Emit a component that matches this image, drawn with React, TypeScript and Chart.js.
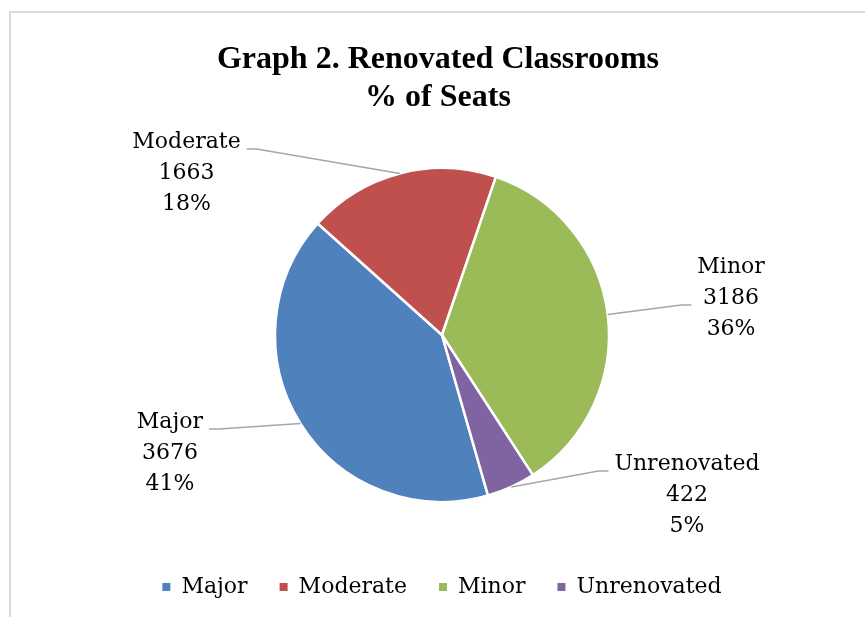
import React, { useEffect, useRef } from 'react';
import { Chart, registerables } from 'chart.js';

Chart.register(...registerables);

// ---- data ----
const categories = ['Major', 'Moderate', 'Minor', 'Unrenovated'];
const seats = [3676, 1663, 3186, 422];
const percentLabels = ['41%', '18%', '36%', '5%'];
const titleLines = ['Graph 2. Renovated Classrooms', '% of Seats'];

// ---- styles ----
const sliceColors = ['#4F81BD', '#C0504D', '#9BBB59', '#8064A2'];
const LABEL_FONT = '22px "DejaVu Serif"';
const TITLE_FONT = 'bold 32px "Liberation Serif"';
const LINE_GAP = 31;
// label block centre (middle line) relative to pie centre, in units of the radius
const labelLayout = [
  { dx: -1.629, dy: 0.707, attachLine: 0 },
  { dx: -1.53, dy: -0.97, attachLine: 0 },
  { dx: 1.731, dy: -0.222, attachLine: 1 },
  { dx: 1.467, dy: 0.958, attachLine: 0 },
];

const framePlugin = {
  id: 'frame',
  beforeDraw(chart: any) {
    const { ctx, width, height } = chart;
    ctx.save();
    ctx.fillStyle = '#ffffff';
    ctx.fillRect(0, 0, width, height);
    ctx.strokeStyle = '#d9d9d9';
    ctx.lineWidth = 2;
    ctx.strokeRect(10, 12, width + 20, height + 20);
    ctx.restore();
  },
};

const titlePlugin = {
  id: 'customTitle',
  afterDraw(chart: any) {
    const { ctx } = chart;
    ctx.save();
    ctx.font = TITLE_FONT;
    ctx.fillStyle = '#000000';
    ctx.textAlign = 'center';
    ctx.textBaseline = 'alphabetic';
    ctx.fillText(titleLines[0], 438, 68);
    ctx.fillText(titleLines[1], 438, 106);
    ctx.restore();
  },
};

const labelPlugin = {
  id: 'sliceLabels',
  afterDatasetsDraw(chart: any) {
    const { ctx } = chart;
    const meta = chart.getDatasetMeta(0);
    ctx.save();
    ctx.font = LABEL_FONT;
    meta.data.forEach((arc: any, i: number) => {
      const { x, y, startAngle, endAngle, outerRadius } = arc.getProps(
        ['x', 'y', 'startAngle', 'endAngle', 'outerRadius'],
        true
      );
      const mid = (startAngle + endAngle) / 2;
      const px = x + Math.cos(mid) * outerRadius;
      const py = y + Math.sin(mid) * outerRadius;
      const lay = labelLayout[i];
      const cx = x + lay.dx * outerRadius;
      const cy = y + lay.dy * outerRadius;
      const lines = [categories[i], String(seats[i]), percentLabels[i]];
      const maxW = Math.max(...lines.map((t) => ctx.measureText(t).width));
      const onRight = cx > x;
      const ax = onRight ? cx - maxW / 2 - 6 : cx + maxW / 2 + 6;
      const ay = cy + (lay.attachLine - 1) * LINE_GAP + 7;
      const ex = onRight ? ax - 10 : ax + 10;
      ctx.strokeStyle = '#a6a6a6';
      ctx.lineWidth = 1.5;
      ctx.beginPath();
      ctx.moveTo(ax, ay);
      ctx.lineTo(ex, ay);
      ctx.lineTo(px, py);
      ctx.stroke();
      ctx.fillStyle = '#000000';
      ctx.textAlign = 'center';
      ctx.textBaseline = 'middle';
      lines.forEach((t, k) => {
        ctx.fillText(t, cx, cy + (k - 1) * LINE_GAP);
      });
    });
    ctx.restore();
  },
};

export default function App() {
  const canvasRef = useRef<HTMLCanvasElement | null>(null);

  useEffect(() => {
    if (!canvasRef.current) return;
    const baseGen = (Chart as any).overrides.pie.plugins.legend.labels.generateLabels;
    const chart = new Chart(canvasRef.current, {
      type: 'pie',
      data: {
        labels: categories,
        datasets: [
          {
            data: seats,
            backgroundColor: sliceColors,
            borderColor: '#ffffff',
            borderWidth: 2.5,
            radius: 167,
          },
        ],
      },
      options: {
        responsive: false,
        animation: false,
        events: [],
        rotation: 164,
        layout: { padding: { top: 126, bottom: 9, left: 19, right: 0 } },
        plugins: {
          title: { display: false },
          tooltip: { enabled: false },
          legend: {
            display: true,
            position: 'bottom',
            labels: {
              boxWidth: 8,
              boxHeight: 8,
              padding: 32,
              color: '#000000',
              font: { family: 'DejaVu Serif', size: 22 },
              generateLabels: (c: any) =>
                baseGen(c).map((l: any) => ({
                  ...l,
                  lineWidth: 0,
                  strokeStyle: 'rgba(0,0,0,0)',
                })),
            },
          },
        },
      },
      plugins: [framePlugin, titlePlugin, labelPlugin],
    } as any);
    return () => chart.destroy();
  }, []);

  return (
    <div style={{ position: 'fixed', left: 0, top: 0, width: 865, height: 617, background: '#fff' }}>
      <canvas ref={canvasRef} width={865} height={617} style={{ display: 'block' }} />
    </div>
  );
}
